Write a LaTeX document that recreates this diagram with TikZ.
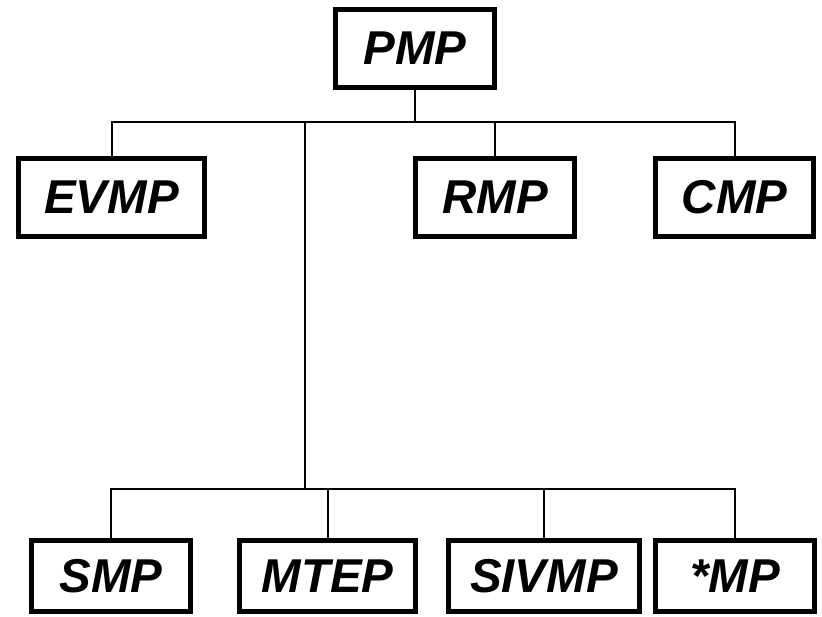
\documentclass[tikz,border=0pt]{standalone}
\usepackage{fontspec}
\setmainfont{Liberation Sans}
\begin{document}
\begin{tikzpicture}[x=1pt,y=1pt,
  unit/.style={draw=black, line width=5pt, fill=white, inner sep=0pt, outer sep=0pt,
    font=\fontsize{47.5}{52}\selectfont\bfseries\itshape},
  upper/.style={unit, minimum height=78pt},
  lower/.style={unit, minimum height=71pt},
  link/.style={draw=black, line width=2pt}]
\useasboundingbox (0,0) rectangle (822,617);

% top level
\node[upper, minimum width=159pt] (pmp) at (415,568.5) {PMP};

% second level
\node[upper, minimum width=186pt] (evmp) at (111.5,419.5) {EVMP};
\node[upper, minimum width=159pt] (rmp)  at (495,419.5)   {RMP};
\node[upper, minimum width=158pt] (cmp)  at (734.5,419.5) {CMP};

% bottom level
\node[lower, minimum width=159pt] (smp)   at (111,41)   {SMP};
\node[lower, minimum width=176pt] (mtep)  at (327.5,41) {MTEP};
\node[lower, minimum width=191pt] (sivmp) at (544,41)   {SIVMP};
\node[lower, minimum width=159pt] (star)  at (735,41)   {*MP};

% bus lines
\coordinate (bustop) at (415,495);
\coordinate (drop)   at (305,495);
\coordinate (buslow) at (305,128);

\begin{scope}[on background layer/.try]
\path[link] (pmp.south) -- (bustop);
\path[link] (bustop) -| (evmp.north);
\path[link] (bustop) -| (rmp.north);
\path[link] (bustop) -| (cmp.north);
\path[link] (drop) -- (buslow);
\path[link] (buslow) -| (smp.north);
\path[link] (buslow) -| (mtep.north);
\path[link] (buslow) -| (sivmp.north);
\path[link] (buslow) -| (star.north);
\end{scope}
\end{tikzpicture}
\end{document}
